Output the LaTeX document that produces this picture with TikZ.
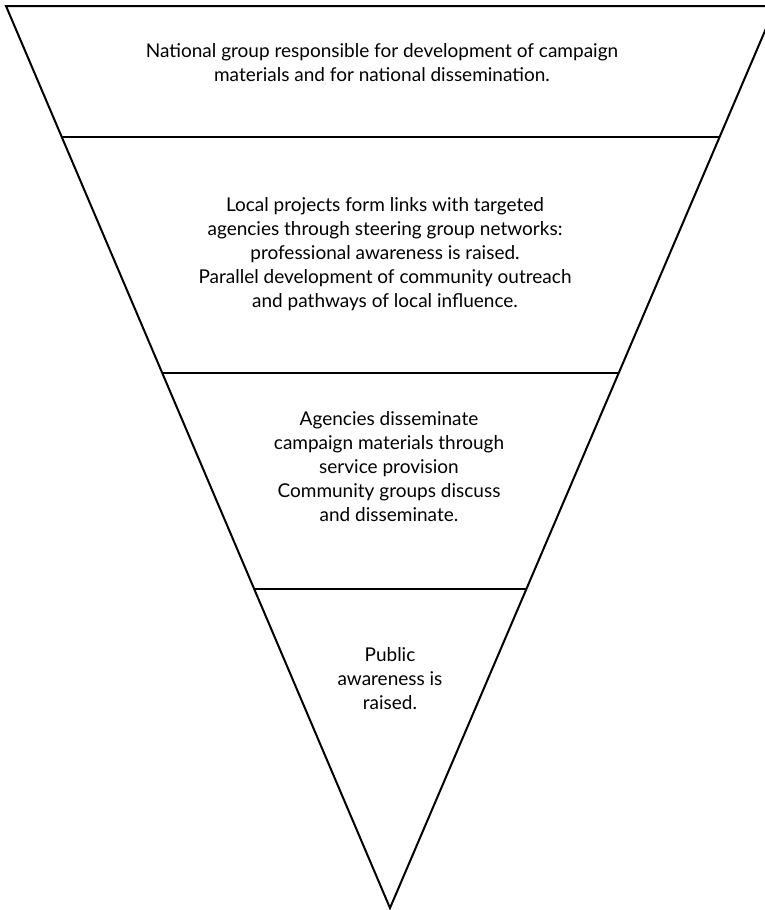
\documentclass[tikz,border=0pt]{standalone}
\usepackage{fontspec}
\setmainfont{Lato}
\usetikzlibrary{calc}
\tikzset{
  outline/.style={line width=2pt, line join=miter},
  divider/.style={line width=1.7pt},
  label/.style={align=center, font=\fontsize{19}{24}\selectfont, inner sep=0pt}
}
\begin{document}
\begin{tikzpicture}[x=1pt,y=-1pt]
\useasboundingbox (0,0) rectangle (765,910);
\clip (0,0) rectangle (765,910);
\coordinate (tl) at (6,6);
\coordinate (tr) at (775.6,6);
\coordinate (ap) at (390,908);
\draw[outline] (tl) -- (tr) -- (ap) -- cycle;
\coordinate (l1) at ($(tl)!0.1452!(ap)$);
\coordinate (r1) at ($(tr)!0.1452!(ap)$);
\coordinate (l2) at ($(tl)!0.4069!(ap)$);
\coordinate (r2) at ($(tr)!0.4069!(ap)$);
\coordinate (l3) at ($(tl)!0.6463!(ap)$);
\coordinate (r3) at ($(tr)!0.6463!(ap)$);
\draw[divider] (l1) -- (r1);
\draw[divider] (l2) -- (r2);
\draw[divider] (l3) -- (r3);
\node[label] (t1) at (382,63) {National group responsible for development of campaign\\materials and for national dissemination.};
\node[label] (t2) at (385,254) {Local projects form links with targeted\\agencies through steering group networks:\\professional awareness is raised.\\Parallel development of community outreach\\and pathways of local influence.};
\node[label] (t3) at (389,467) {Agencies disseminate\\campaign materials through\\service provision\\Community groups discuss\\and disseminate.};
\node[label] (t4) at (390,679) {Public\\awareness is\\raised.};
\end{tikzpicture}
\end{document}
